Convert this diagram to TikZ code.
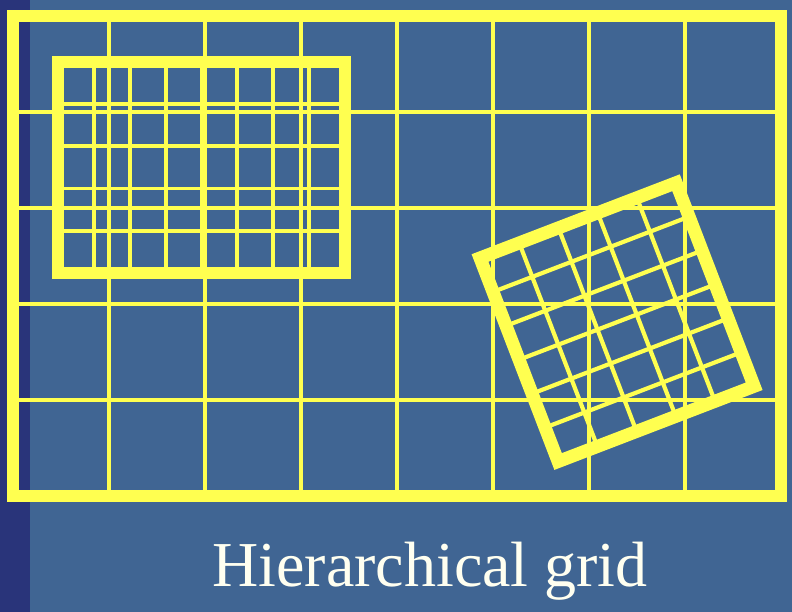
\documentclass[tikz,border=0pt]{standalone}
\usepackage{fontspec}
\setmainfont{Liberation Serif}
\definecolor{bgblue}{HTML}{406593}
\definecolor{stripblue}{HTML}{29347A}
\definecolor{gridyellow}{HTML}{FFFF50}
\definecolor{textwhite}{HTML}{FFFFF0}
\tikzset{
  gridline/.style={draw=gridyellow,line width=3.8pt},
  framebox/.style={draw=gridyellow,line width=12pt},
  rotline/.style={draw=gridyellow,line width=4.2pt},
  rotframe/.style={draw=gridyellow,line width=13pt},
  caption/.style={text=textwhite,font=\fontsize{64}{70}\selectfont,inner sep=0pt,anchor=base}
}
\begin{document}
\begin{tikzpicture}[x=1pt,y=-1pt]
\useasboundingbox (0,0) rectangle (792,612);
\fill[bgblue] (0,0) rectangle (792,612);
\fill[stripblue] (0,0) rectangle (30,612);
% coarse grid
\foreach \x in {109,205,301,397,493,589,685} \draw[gridline] (\x,16) -- (\x,496);
\foreach \y in {112,208,304,400} \draw[gridline] (13,\y) -- (781,\y);
\draw[framebox] (13,16) rectangle (781,496);
% fine axis-aligned grid
\foreach \i in {1,...,7} \draw[gridline] ({58+35.875*\i},62) -- ({58+35.875*\i},273);
\foreach \j in {1,...,4} \draw[gridline] (58,{62+42.2*\j}) -- (345,{62+42.2*\j});
\draw[framebox] (58,62) rectangle (345,273);
% rotated fine grid
\begin{scope}[shift={(480,258)},rotate=21]
\foreach \i in {1,...,4} \draw[rotline] ({42*\i},0) -- ({42*\i},218);
\foreach \j in {1,...,5} \draw[rotline] (0,{36.33*\j}) -- (210,{36.33*\j});
\draw[rotframe] (0,0) rectangle (210,218);
\end{scope}
\node[caption] (cap) at (430,586) {Hierarchical grid};
\end{tikzpicture}
\end{document}
